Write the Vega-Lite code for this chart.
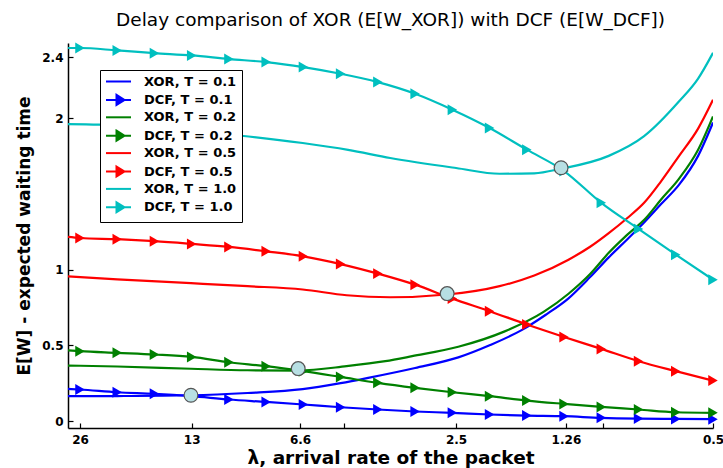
{
  "$schema": "https://vega.github.io/schema/vega-lite/v6.json",
  "width": 645,
  "height": 385,
  "autosize": {"type": "none"},
  "padding": {"left": 68, "top": 43, "right": 10, "bottom": 40},
  "background": "white",
  "config": {
    "view": {"stroke": null},
    "legend": {
      "orient": "none", "legendX": 32, "legendY": 27,
      "strokeColor": "black", "fillColor": "white", "padding": 5,
      "labelFont": "DejaVu Sans", "labelFontWeight": "bold", "labelFontSize": 13, "labelColor": "black",
      "symbolSize": 100, "symbolStrokeWidth": 2, "symbolOffset": 7, "labelOffset": 19, "rowPadding": 1.4
    }
  },
  "title": {
    "text": "Delay comparison of XOR (E[W_XOR]) with DCF (E[W_DCF])",
    "anchor": "middle",
    "font": "DejaVu Sans",
    "fontSize": 18.5,
    "fontWeight": "normal",
    "color": "black",
    "offset": 13
  },
  "datasets": {
    "curves": [
      {"s": "XOR, T = 0.1", "i": -0.322, "v": 0.164},
      {"s": "XOR, T = 0.1", "i": 1, "v": 0.165},
      {"s": "XOR, T = 0.1", "i": 2.98, "v": 0.17},
      {"s": "XOR, T = 0.1", "i": 4.5, "v": 0.185},
      {"s": "XOR, T = 0.1", "i": 5.98, "v": 0.21},
      {"s": "XOR, T = 0.1", "i": 7, "v": 0.25},
      {"s": "XOR, T = 0.1", "i": 7.74, "v": 0.285},
      {"s": "XOR, T = 0.1", "i": 9, "v": 0.35},
      {"s": "XOR, T = 0.1", "i": 10.16, "v": 0.42},
      {"s": "XOR, T = 0.1", "i": 11, "v": 0.5},
      {"s": "XOR, T = 0.1", "i": 11.86, "v": 0.6},
      {"s": "XOR, T = 0.1", "i": 12.5, "v": 0.7},
      {"s": "XOR, T = 0.1", "i": 13.12, "v": 0.81},
      {"s": "XOR, T = 0.1", "i": 13.7, "v": 0.95},
      {"s": "XOR, T = 0.1", "i": 14.2, "v": 1.08},
      {"s": "XOR, T = 0.1", "i": 14.7, "v": 1.2},
      {"s": "XOR, T = 0.1", "i": 15.15, "v": 1.31},
      {"s": "XOR, T = 0.1", "i": 15.6, "v": 1.43},
      {"s": "XOR, T = 0.1", "i": 16.09, "v": 1.56},
      {"s": "XOR, T = 0.1", "i": 16.6, "v": 1.75},
      {"s": "XOR, T = 0.1", "i": 17, "v": 1.97},

      {"s": "XOR, T = 0.2", "i": -0.322, "v": 0.366},
      {"s": "XOR, T = 0.2", "i": 1, "v": 0.36},
      {"s": "XOR, T = 0.2", "i": 2.98, "v": 0.345},
      {"s": "XOR, T = 0.2", "i": 4.5, "v": 0.335},
      {"s": "XOR, T = 0.2", "i": 5.86, "v": 0.333},
      {"s": "XOR, T = 0.2", "i": 7.16, "v": 0.362},
      {"s": "XOR, T = 0.2", "i": 8.2, "v": 0.395},
      {"s": "XOR, T = 0.2", "i": 8.92, "v": 0.428},
      {"s": "XOR, T = 0.2", "i": 10.16, "v": 0.49},
      {"s": "XOR, T = 0.2", "i": 11.39, "v": 0.59},
      {"s": "XOR, T = 0.2", "i": 12.45, "v": 0.72},
      {"s": "XOR, T = 0.2", "i": 13.12, "v": 0.84},
      {"s": "XOR, T = 0.2", "i": 13.7, "v": 0.97},
      {"s": "XOR, T = 0.2", "i": 14.2, "v": 1.11},
      {"s": "XOR, T = 0.2", "i": 14.7, "v": 1.23},
      {"s": "XOR, T = 0.2", "i": 15.2, "v": 1.34},
      {"s": "XOR, T = 0.2", "i": 15.6, "v": 1.46},
      {"s": "XOR, T = 0.2", "i": 16.09, "v": 1.6},
      {"s": "XOR, T = 0.2", "i": 16.6, "v": 1.79},
      {"s": "XOR, T = 0.2", "i": 17, "v": 2.01},

      {"s": "XOR, T = 0.5", "i": -0.322, "v": 0.955},
      {"s": "XOR, T = 0.5", "i": 1, "v": 0.935},
      {"s": "XOR, T = 0.5", "i": 2.98, "v": 0.91},
      {"s": "XOR, T = 0.5", "i": 4.5, "v": 0.89},
      {"s": "XOR, T = 0.5", "i": 5.98, "v": 0.868},
      {"s": "XOR, T = 0.5", "i": 7.16, "v": 0.83},
      {"s": "XOR, T = 0.5", "i": 8.33, "v": 0.817},
      {"s": "XOR, T = 0.5", "i": 9.86, "v": 0.835},
      {"s": "XOR, T = 0.5", "i": 11.27, "v": 0.89},
      {"s": "XOR, T = 0.5", "i": 12.2, "v": 0.96},
      {"s": "XOR, T = 0.5", "i": 13.12, "v": 1.065},
      {"s": "XOR, T = 0.5", "i": 13.7, "v": 1.15},
      {"s": "XOR, T = 0.5", "i": 14.2, "v": 1.24},
      {"s": "XOR, T = 0.5", "i": 14.7, "v": 1.34},
      {"s": "XOR, T = 0.5", "i": 15.15, "v": 1.44},
      {"s": "XOR, T = 0.5", "i": 15.6, "v": 1.58},
      {"s": "XOR, T = 0.5", "i": 16.09, "v": 1.75},
      {"s": "XOR, T = 0.5", "i": 16.6, "v": 1.93},
      {"s": "XOR, T = 0.5", "i": 17, "v": 2.12},

      {"s": "XOR, T = 1.0", "i": -0.322, "v": 1.96},
      {"s": "XOR, T = 1.0", "i": 0.51, "v": 1.956},
      {"s": "XOR, T = 1.0", "i": 2, "v": 1.93},
      {"s": "XOR, T = 1.0", "i": 4.33, "v": 1.883},
      {"s": "XOR, T = 1.0", "i": 5.98, "v": 1.835},
      {"s": "XOR, T = 1.0", "i": 7.2, "v": 1.79},
      {"s": "XOR, T = 1.0", "i": 8.33, "v": 1.736},
      {"s": "XOR, T = 1.0", "i": 10.1, "v": 1.67},
      {"s": "XOR, T = 1.0", "i": 11.27, "v": 1.632},
      {"s": "XOR, T = 1.0", "i": 12.2, "v": 1.635},
      {"s": "XOR, T = 1.0", "i": 12.92, "v": 1.665},
      {"s": "XOR, T = 1.0", "i": 14.2, "v": 1.75},
      {"s": "XOR, T = 1.0", "i": 15.15, "v": 1.88},
      {"s": "XOR, T = 1.0", "i": 16.09, "v": 2.11},
      {"s": "XOR, T = 1.0", "i": 16.6, "v": 2.26},
      {"s": "XOR, T = 1.0", "i": 17, "v": 2.43},

      {"s": "DCF, T = 0.1", "i": -0.322, "v": 0.212},
      {"s": "DCF, T = 0.1", "i": 0, "v": 0.208},
      {"s": "DCF, T = 0.1", "i": 1, "v": 0.19},
      {"s": "DCF, T = 0.1", "i": 2, "v": 0.18},
      {"s": "DCF, T = 0.1", "i": 3, "v": 0.164},
      {"s": "DCF, T = 0.1", "i": 4, "v": 0.142},
      {"s": "DCF, T = 0.1", "i": 5, "v": 0.126},
      {"s": "DCF, T = 0.1", "i": 6, "v": 0.109},
      {"s": "DCF, T = 0.1", "i": 7, "v": 0.091},
      {"s": "DCF, T = 0.1", "i": 8, "v": 0.076},
      {"s": "DCF, T = 0.1", "i": 9, "v": 0.063},
      {"s": "DCF, T = 0.1", "i": 10, "v": 0.054},
      {"s": "DCF, T = 0.1", "i": 11, "v": 0.043},
      {"s": "DCF, T = 0.1", "i": 12, "v": 0.036},
      {"s": "DCF, T = 0.1", "i": 13, "v": 0.032},
      {"s": "DCF, T = 0.1", "i": 14, "v": 0.021},
      {"s": "DCF, T = 0.1", "i": 15, "v": 0.016},
      {"s": "DCF, T = 0.1", "i": 16, "v": 0.014},
      {"s": "DCF, T = 0.1", "i": 17, "v": 0.012},

      {"s": "DCF, T = 0.2", "i": -0.322, "v": 0.467},
      {"s": "DCF, T = 0.2", "i": 0, "v": 0.461},
      {"s": "DCF, T = 0.2", "i": 1, "v": 0.45},
      {"s": "DCF, T = 0.2", "i": 2, "v": 0.439},
      {"s": "DCF, T = 0.2", "i": 3, "v": 0.423},
      {"s": "DCF, T = 0.2", "i": 4, "v": 0.388},
      {"s": "DCF, T = 0.2", "i": 5, "v": 0.362},
      {"s": "DCF, T = 0.2", "i": 6, "v": 0.329},
      {"s": "DCF, T = 0.2", "i": 7, "v": 0.291},
      {"s": "DCF, T = 0.2", "i": 8, "v": 0.252},
      {"s": "DCF, T = 0.2", "i": 9, "v": 0.219},
      {"s": "DCF, T = 0.2", "i": 10, "v": 0.19},
      {"s": "DCF, T = 0.2", "i": 11, "v": 0.164},
      {"s": "DCF, T = 0.2", "i": 12, "v": 0.135},
      {"s": "DCF, T = 0.2", "i": 13, "v": 0.113},
      {"s": "DCF, T = 0.2", "i": 14, "v": 0.093},
      {"s": "DCF, T = 0.2", "i": 15, "v": 0.076},
      {"s": "DCF, T = 0.2", "i": 16, "v": 0.058},
      {"s": "DCF, T = 0.2", "i": 17, "v": 0.054},

      {"s": "DCF, T = 0.5", "i": -0.322, "v": 1.215},
      {"s": "DCF, T = 0.5", "i": 0, "v": 1.208},
      {"s": "DCF, T = 0.5", "i": 1, "v": 1.2},
      {"s": "DCF, T = 0.5", "i": 2, "v": 1.187},
      {"s": "DCF, T = 0.5", "i": 3, "v": 1.169},
      {"s": "DCF, T = 0.5", "i": 4, "v": 1.149},
      {"s": "DCF, T = 0.5", "i": 5, "v": 1.12},
      {"s": "DCF, T = 0.5", "i": 6, "v": 1.087},
      {"s": "DCF, T = 0.5", "i": 7, "v": 1.036},
      {"s": "DCF, T = 0.5", "i": 8, "v": 0.973},
      {"s": "DCF, T = 0.5", "i": 9, "v": 0.9},
      {"s": "DCF, T = 0.5", "i": 10, "v": 0.808},
      {"s": "DCF, T = 0.5", "i": 11, "v": 0.725},
      {"s": "DCF, T = 0.5", "i": 12, "v": 0.637},
      {"s": "DCF, T = 0.5", "i": 13, "v": 0.555},
      {"s": "DCF, T = 0.5", "i": 14, "v": 0.476},
      {"s": "DCF, T = 0.5", "i": 15, "v": 0.395},
      {"s": "DCF, T = 0.5", "i": 16, "v": 0.329},
      {"s": "DCF, T = 0.5", "i": 17, "v": 0.267},

      {"s": "DCF, T = 1.0", "i": -0.322, "v": 2.462},
      {"s": "DCF, T = 1.0", "i": 0, "v": 2.462},
      {"s": "DCF, T = 1.0", "i": 1, "v": 2.446},
      {"s": "DCF, T = 1.0", "i": 2, "v": 2.428},
      {"s": "DCF, T = 1.0", "i": 3, "v": 2.413},
      {"s": "DCF, T = 1.0", "i": 4, "v": 2.389},
      {"s": "DCF, T = 1.0", "i": 5, "v": 2.369},
      {"s": "DCF, T = 1.0", "i": 6, "v": 2.336},
      {"s": "DCF, T = 1.0", "i": 7, "v": 2.292},
      {"s": "DCF, T = 1.0", "i": 8, "v": 2.237},
      {"s": "DCF, T = 1.0", "i": 9, "v": 2.16},
      {"s": "DCF, T = 1.0", "i": 10, "v": 2.055},
      {"s": "DCF, T = 1.0", "i": 11, "v": 1.934},
      {"s": "DCF, T = 1.0", "i": 12, "v": 1.791},
      {"s": "DCF, T = 1.0", "i": 13, "v": 1.65},
      {"s": "DCF, T = 1.0", "i": 14, "v": 1.44},
      {"s": "DCF, T = 1.0", "i": 15, "v": 1.268},
      {"s": "DCF, T = 1.0", "i": 16, "v": 1.098},
      {"s": "DCF, T = 1.0", "i": 17, "v": 0.933}
    ],
    "circles": [
      {"i": 2.98, "v": 0.17},
      {"i": 5.86, "v": 0.346},
      {"i": 9.86, "v": 0.841},
      {"i": 12.92, "v": 1.672}
    ]
  },
  "layer": [
    {
      "data": {"name": "curves"},
      "mark": {"type": "line", "interpolate": "monotone", "strokeWidth": 2.2, "clip": true},
      "encoding": {
        "x": {
          "field": "i", "type": "quantitative",
          "scale": {"domain": [-0.322, 17], "nice": false, "zero": false},
          "axis": {
            "title": "λ, arrival rate of the packet",
            "values": [0, 3, 5.91, 7.09, 10.1, 13.05, 14.04, 17],
            "labelExpr": "datum.value == 0 ? '26' : datum.value == 3 ? '13' : datum.value == 5.91 ? '6.6' : datum.value == 10.1 ? '2.5' : datum.value == 13.05 ? '1.26' : datum.value == 17 ? '0.5' : ''",
            "grid": false,
            "tickSize": -5,
            "tickWidth": 1.2,
            "tickColor": "black",
            "domainColor": "black",
            "domainWidth": 1.5,
            "labelPadding": 11,
            "labelFont": "DejaVu Sans",
            "labelFontWeight": "bold",
            "labelFontSize": 12,
            "labelColor": "black",
            "labelFlush": false,
            "labelOverlap": false,
            "titleFont": "DejaVu Sans",
            "titleFontWeight": "bold",
            "titleFontSize": 18.5,
            "titleColor": "black",
            "titleBaseline": "alphabetic",
            "titleY": 35
          }
        },
        "y": {
          "field": "v", "type": "quantitative",
          "scale": {"domain": [-0.046, 2.495], "nice": false, "zero": false},
          "axis": {
            "title": "E[W] - expected waiting time",
            "values": [0, 0.5, 1, 2, 2.4],
            "format": "~g",
            "grid": false,
            "tickSize": -5,
            "tickWidth": 1.2,
            "tickColor": "black",
            "domainColor": "black",
            "domainWidth": 1.5,
            "labelPadding": 10,
            "labelFont": "DejaVu Sans",
            "labelFontWeight": "bold",
            "labelFontSize": 12,
            "labelColor": "black",
            "labelOverlap": false,
            "titleFont": "DejaVu Sans",
            "titleFontWeight": "bold",
            "titleFontSize": 17,
            "titleColor": "black",
            "titleBaseline": "alphabetic",
            "titleX": -39,
            "titleY": 192.5
          }
        },
        "color": {
          "field": "s", "type": "nominal",
          "scale": {
            "domain": ["XOR, T = 0.1", "XOR, T = 0.2", "XOR, T = 0.5", "XOR, T = 1.0", "DCF, T = 0.1", "DCF, T = 0.2", "DCF, T = 0.5", "DCF, T = 1.0"],
            "range": ["#0000ff", "#008000", "#ff0000", "#00bfbf", "#0000ff", "#008000", "#ff0000", "#00bfbf"]
          },
          "legend": null
        }
      }
    },
    {
      "data": {"name": "curves"},
      "transform": [{"filter": "indexof(datum.s, 'DCF') == 0 && datum.i >= 0"}],
      "mark": {"type": "point", "shape": "triangle-right", "filled": true, "size": 120, "opacity": 1},
      "encoding": {
        "x": {"field": "i", "type": "quantitative"},
        "y": {"field": "v", "type": "quantitative"},
        "color": {"field": "s", "type": "nominal", "legend": null}
      }
    },
    {
      "data": {"name": "circles"},
      "mark": {"type": "point", "shape": "circle", "filled": true, "size": 190, "fill": "#b7dfe3", "stroke": "#555555", "strokeWidth": 1.2, "opacity": 1},
      "encoding": {
        "x": {"field": "i", "type": "quantitative"},
        "y": {"field": "v", "type": "quantitative"}
      }
    },
    {
      "data": {"name": "curves"},
      "transform": [{"filter": "datum.i < -5"}],
      "mark": {"type": "point", "filled": true, "strokeWidth": 2, "opacity": 1},
      "encoding": {
        "x": {"field": "i", "type": "quantitative"},
        "y": {"field": "v", "type": "quantitative"},
        "fill": {
          "field": "s", "type": "nominal",
          "scale": {
            "domain": ["XOR, T = 0.1", "DCF, T = 0.1", "XOR, T = 0.2", "DCF, T = 0.2", "XOR, T = 0.5", "DCF, T = 0.5", "XOR, T = 1.0", "DCF, T = 1.0"],
            "range": ["#0000ff", "#0000ff", "#008000", "#008000", "#ff0000", "#ff0000", "#00bfbf", "#00bfbf"]
          },
          "legend": {"title": null}
        },
        "stroke": {
          "field": "s", "type": "nominal",
          "scale": {
            "domain": ["XOR, T = 0.1", "DCF, T = 0.1", "XOR, T = 0.2", "DCF, T = 0.2", "XOR, T = 0.5", "DCF, T = 0.5", "XOR, T = 1.0", "DCF, T = 1.0"],
            "range": ["#0000ff", "#0000ff", "#008000", "#008000", "#ff0000", "#ff0000", "#00bfbf", "#00bfbf"]
          },
          "legend": {"title": null}
        },
        "shape": {
          "field": "s", "type": "nominal",
          "scale": {
            "domain": ["XOR, T = 0.1", "DCF, T = 0.1", "XOR, T = 0.2", "DCF, T = 0.2", "XOR, T = 0.5", "DCF, T = 0.5", "XOR, T = 1.0", "DCF, T = 1.0"],
            "range": ["M-2.5,0L2.5,0", "M-2.5,0L2.5,0M-0.4,-1L1.2,0L-0.4,1Z", "M-2.5,0L2.5,0", "M-2.5,0L2.5,0M-0.4,-1L1.2,0L-0.4,1Z", "M-2.5,0L2.5,0", "M-2.5,0L2.5,0M-0.4,-1L1.2,0L-0.4,1Z", "M-2.5,0L2.5,0", "M-2.5,0L2.5,0M-0.4,-1L1.2,0L-0.4,1Z"]
          },
          "legend": {"title": null}
        }
      }
    }
  ]
}
